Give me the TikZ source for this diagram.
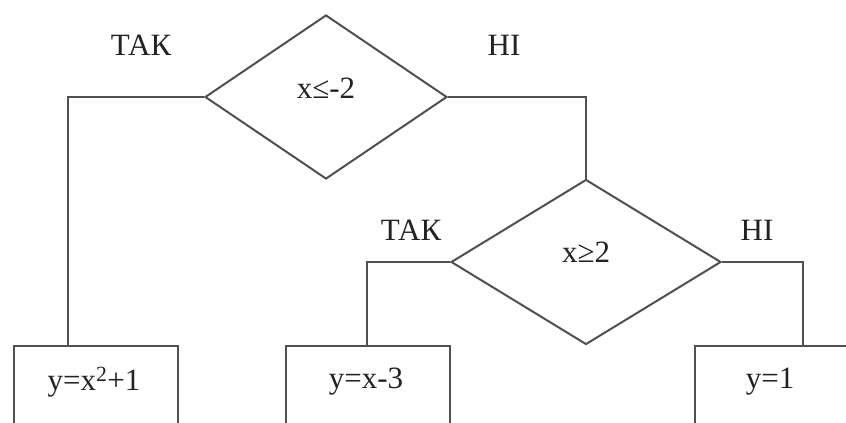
\documentclass[tikz,border=0pt]{standalone}
\usepackage{fontspec}
\setmainfont{Liberation Serif}
\usetikzlibrary{shapes.geometric}
\definecolor{ln}{HTML}{505050}
\definecolor{tx}{HTML}{222222}
\begin{document}
\begin{tikzpicture}[x=1pt,y=-1pt,
  line/.style={draw=ln,line width=2pt},
  dec/.style={diamond,line,inner sep=0pt,minimum width=#1},
  blk/.style={rectangle,line,inner sep=0pt,minimum width=164pt,minimum height=100pt,anchor=north west},
  lbl/.style={text=tx,font=\fontsize{31}{36}\selectfont,inner sep=0pt}]
\useasboundingbox (0,0) rectangle (846,423);
\clip (0,0) rectangle (846,423);
% decisions
\node[dec=242pt,minimum height=164pt] (d1) at (326,97) {};
\node[lbl] (d1t) at (326,88) {x≤-2};
\node[dec=270pt,minimum height=165pt] (d2) at (586,262) {};
\node[lbl] (d2t) at (586,252) {x≥2};
% blocks
\node[blk] (b1) at (13,345) {};
\node[lbl] (b1t) at (94,382) {y=x\textsuperscript{2}+1};
\node[blk] (b2) at (285,345) {};
\node[lbl] (b2t) at (366,382) {y=x-3};
\node[blk,minimum width=200pt] (b3) at (694,345) {};
\node[lbl] (b3t) at (770,382) {y=1};
% junctions on block tops
\coordinate (j1) at (68,345);
\coordinate (j2) at (367,345);
\coordinate (j3) at (803,345);
% connectors
\draw[line] (d1.west) -| (j1);
\draw[line] (d1.east) -| (d2.north);
\draw[line] (d2.west) -| (j2);
\draw[line] (d2.east) -| (j3);
% branch labels
\node[lbl] (l1) at (141,45) {ТАК};
\node[lbl] (l2) at (504,45) {НІ};
\node[lbl] (l3) at (411,230) {ТАК};
\node[lbl] (l4) at (757,230) {НІ};
\end{tikzpicture}
\end{document}
